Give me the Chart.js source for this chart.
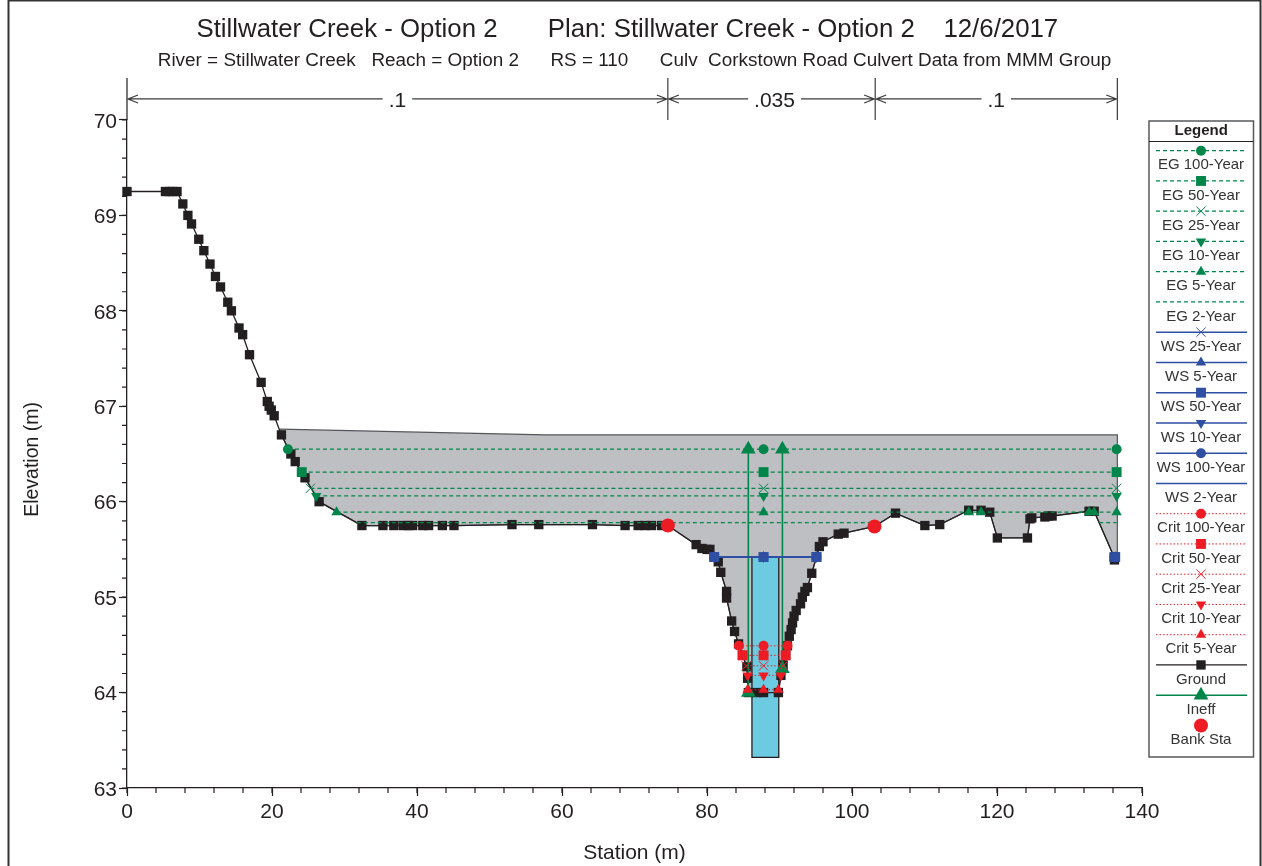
<!DOCTYPE html>
<html>
<head>
<meta charset="utf-8">
<title>Stillwater Creek - Option 2</title>
<script src="https://cdn.jsdelivr.net/npm/chart.js@4"></script>
<style>
    html, body { margin: 0; padding: 0; background: #ffffff; overflow: hidden; }
    canvas { display: block; }
</style>
</head>
<body>
<canvas id="chart1" width="1262" height="866"></canvas>
<script>
const groundX = [0, 5.3, 5.8, 6.3, 6.9, 7.7, 8.4, 8.9, 9.9, 10.6, 11.45, 12.2, 12.9, 13.9, 14.4, 15.45, 15.95, 16.9, 18.5, 19.35, 19.6, 19.9, 20.3, 21.3,
    22.6, 23.2, 24.55, 26.5, 32.4, 35.3, 36.8, 38.1, 38.8, 39.4, 40.8, 41.6, 43.5, 45.1, 53.1, 56.8, 64.2, 68.7, 70.5, 71.45, 72.35, 73.75, 74.6,
    78.5, 79.3, 80.0, 80.4, 81.0, 81.55, 81.9, 82.7, 82.7, 83.4, 83.8, 84.35, 84.9, 85.5, 85.6, 85.7, 86.8, 87.8, 89.85,
    90.2, 90.5, 90.85, 91.1, 91.35, 91.6, 91.8, 92.0, 92.3, 92.9, 93.15, 93.5, 93.85, 94.45, 95.1, 95.5, 96.0, 98.1, 98.9, 103.1,
    106.0, 110.05, 112.1, 116.1, 117.8, 119.0, 120.05, 124.2, 124.55, 124.8, 126.6, 127.1, 127.6, 132.7, 133.4, 136.15, 136.2];
const groundY = [69.25, 69.25, 69.25, 69.25, 69.25, 69.12, 69.0, 68.91, 68.75, 68.63, 68.49, 68.36, 68.25, 68.09, 68.0, 67.82, 67.75, 67.54, 67.25, 67.05, 67.0, 66.96, 66.9, 66.7,
    66.5, 66.42, 66.25, 66.0, 65.75, 65.75, 65.75, 65.75, 65.75, 65.75, 65.75, 65.75, 65.75, 65.75, 65.76, 65.76, 65.76, 65.75, 65.75, 65.75, 65.75, 65.75, 65.75,
    65.55, 65.51, 65.5, 65.5, 65.42, 65.37, 65.26, 65.06, 64.99, 64.75, 64.64, 64.51, 64.39, 64.27, 64.15, 64.0, 64.0, 64.0, 64.0,
    64.18, 64.29, 64.39, 64.49, 64.59, 64.66, 64.73, 64.8, 64.86, 64.93, 65.0, 65.06, 65.1, 65.25, 65.42, 65.53, 65.58, 65.66, 65.67, 65.74,
    65.88, 65.75, 65.76, 65.91, 65.91, 65.89, 65.62, 65.62, 65.82, 65.83, 65.84, 65.85, 65.85, 65.9, 65.9, 65.42, 65.39];

const flowTopX = [21.1, 57.7, 136.6, 136.6];
const flowTopY = [66.76, 66.7, 66.7, 65.39];
const culvertX = [86.2, 86.2, 89.9, 89.9, 86.2];
const culvertY = [65.42, 63.32, 63.32, 65.42, 65.42];

const eg100X = [22.2, 87.8, 136.5];
const eg100Y = [66.55, 66.55, 66.55];
const eg50X = [24.1, 87.8, 136.5];
const eg50Y = [66.31, 66.31, 66.31];
const eg25X = [25.3, 87.8, 136.5];
const eg25Y = [66.14, 66.14, 66.14];
const eg10X = [26.1, 87.8, 136.5];
const eg10Y = [66.06, 66.06, 66.06];
const eg5X = [28.9, 87.8, 116.1, 117.8, 132.7, 133.4, 136.5];
const eg5Y = [65.89, 65.89, 65.89, 65.89, 65.89, 65.89, 65.89];
const eg2X = [31.7, 103.1, 110, 134.1, 136.5];
const eg2Y = [65.78, 65.78, null, 65.78, 65.78];

const wsX = [81.0, 87.8, 95.1, 110, 136.3];
const wsY = [65.42, 65.42, 65.42, null, 65.42];

const crit100X = [84.4, 87.8, 91.1];
const crit100Y = [64.49, 64.49, 64.49];
const crit50X = [84.9, 87.8, 90.85];
const crit50Y = [64.39, 64.39, 64.39];
const crit25X = [85.4, 87.8, 90.5];
const crit25Y = [64.28, 64.28, 64.28];
const crit10X = [85.6, 87.8, 90.2];
const crit10Y = [64.18, 64.18, 64.18];
const crit5X = [85.6, 87.8, 89.85];
const crit5Y = [64.03, 64.03, 64.03];

const ineffX = [85.7, 85.7, 88, 90.4, 90.4];
const ineffY = [66.55, 64.0, null, 66.55, 64.25];
const bankX = [74.6, 103.1];
const bankY = [65.75, 65.74];

const nStations = [0, 74.6, 103.2, 136.6];
const nValues = ['.1', '.035', '.1'];

const FONT = '"Liberation Sans", Arial, sans-serif';
const INK = '#231f20';
const GREEN = '#00854a';
const BLUE = '#2f4fa2';
const RED = '#ed1c24';

function pts(xs, ys) {
    return xs.map((x, i) => ({ x: x, y: ys[i] }));
}

function series(label, xs, ys, color, dash, width, style, radius, rotation, order) {
    return {
        label: label,
        data: pts(xs, ys),
        borderColor: color,
        backgroundColor: color,
        borderDash: dash,
        borderWidth: width,
        pointStyle: style,
        pointRadius: style ? radius : 0,
        pointRotation: rotation,
        pointBorderWidth: style === 'crossRot' ? 1 : 0,
        pointBackgroundColor: color,
        pointBorderColor: color,
        tension: 0,
        clip: false,
        order: order
    };
}

const egDash = [4, 3];
const critDash = [1.5, 2];

const datasets = [
    series('EG 100-Year', eg100X, eg100Y, GREEN, egDash, 1.3, 'circle', 5, 0, 40),
    series('EG 50-Year', eg50X, eg50Y, GREEN, egDash, 1.3, 'rect', 7, 0, 40),
    series('EG 25-Year', eg25X, eg25Y, GREEN, egDash, 1.3, 'crossRot', 6.5, 0, 40),
    series('EG 10-Year', eg10X, eg10Y, GREEN, egDash, 1.3, 'triangle', 6, 180, 40),
    series('EG 5-Year', eg5X, eg5Y, GREEN, egDash, 1.3, 'triangle', 6, 0, 40),
    series('EG 2-Year', eg2X, eg2Y, GREEN, egDash, 1.3, false, 0, 0, 40),
    series('WS 25-Year', wsX, wsY, BLUE, [], 1.5, 'crossRot', 6.5, 0, 30),
    series('WS 5-Year', wsX, wsY, BLUE, [], 1.5, 'triangle', 6, 0, 30),
    series('WS 50-Year', wsX, wsY, BLUE, [], 1.5, 'rect', 7, 0, 30),
    series('WS 10-Year', wsX, wsY, BLUE, [], 1.5, 'triangle', 6, 180, 30),
    series('WS 100-Year', wsX, wsY, BLUE, [], 1.5, 'circle', 5, 0, 30),
    series('WS 2-Year', wsX, wsY, BLUE, [], 1.5, false, 0, 0, 30),
    series('Crit 100-Year', crit100X, crit100Y, RED, critDash, 1, 'circle', 5, 0, 20),
    series('Crit 50-Year', crit50X, crit50Y, RED, critDash, 1, 'rect', 7, 0, 20),
    series('Crit 25-Year', crit25X, crit25Y, RED, critDash, 1, 'crossRot', 6.5, 0, 20),
    series('Crit 10-Year', crit10X, crit10Y, RED, critDash, 1, 'triangle', 6, 180, 20),
    series('Crit 5-Year', crit5X, crit5Y, RED, critDash, 1, 'triangle', 6, 0, 20),
    series('Ground', groundX, groundY, INK, [], 1.3, 'rect', 6.6, 0, 60),
    series('Ineff', ineffX, ineffY, GREEN, [], 1.6, 'triangle', 8.5, 0, 50),
    series('Bank Sta', bankX, bankY, RED, [], 0, 'circle', 7, 0, 10),
    {
        // flow area: top edge then back along the ground
        data: pts(flowTopX, flowTopY).concat(pts(groundX, groundY).filter(p => p.x >= 21.3).reverse()),
        borderColor: '#55565a',
        borderWidth: 1.2,
        backgroundColor: '#bebfc3',
        fill: 'shape',
        pointRadius: 0,
        tension: 0,
        clip: false,
        order: 80
    },
    {
        data: pts(culvertX, culvertY),
        borderColor: INK,
        borderWidth: 1.3,
        backgroundColor: '#6ccbe0',
        fill: 'shape',
        pointRadius: 0,
        tension: 0,
        clip: false,
        order: 70
    }
];

// minor ticks, the n value row over the plot, the legend panel and the page frame
const extras = {
    id: 'extras',
    beforeDatasetsDraw(chart) {
        const ctx = chart.ctx;
        const x = chart.scales.x;
        const y = chart.scales.y;
        ctx.save();
        ctx.strokeStyle = INK;
        ctx.lineWidth = 1.2;
        ctx.beginPath();
        for (let v = 0; v <= 140; v += 4) {
            const px = x.getPixelForValue(v);
            ctx.moveTo(px, y.bottom);
            ctx.lineTo(px, y.bottom + 5);
        }
        for (let i = 0; i <= 35; i++) {
            const py = y.getPixelForValue(63 + i * 0.2);
            ctx.moveTo(x.left - 5, py);
            ctx.lineTo(x.left, py);
        }
        ctx.moveTo(x.left, y.top);
        ctx.lineTo(x.left, y.getPixelForValue(70.44));
        ctx.stroke();
        ctx.restore();
    },
    afterDraw(chart) {
        const ctx = chart.ctx;
        const x = chart.scales.x;
        const y = chart.scales.y;
        ctx.save();

        ctx.strokeStyle = '#333333';
        ctx.lineWidth = 2;
        ctx.strokeRect(8.5, 0.5, 1252, 900);

        const rowY = y.getPixelForValue(70.22);
        const topY = y.getPixelForValue(70.44);
        ctx.strokeStyle = '#3a3a3c';
        ctx.lineWidth = 1.2;
        nStations.forEach((s, i) => {
            const px = x.getPixelForValue(s);
            if (i > 0) {
                ctx.beginPath();
                ctx.moveTo(px, topY);
                ctx.lineTo(px, y.top);
                ctx.stroke();
            }
        });
        ctx.font = '21px ' + FONT;
        ctx.textAlign = 'center';
        ctx.textBaseline = 'middle';
        nValues.forEach((n, i) => {
            const a = x.getPixelForValue(nStations[i]);
            const b = x.getPixelForValue(nStations[i + 1]);
            const mid = (a + b) / 2 + (n.length > 2 ? 3 : 0);
            const half = ctx.measureText(n).width / 2 + 6;
            ctx.beginPath();
            ctx.moveTo(a + 1, rowY);
            ctx.lineTo(mid - half, rowY);
            ctx.moveTo(mid + half, rowY);
            ctx.lineTo(b - 1, rowY);
            ctx.moveTo(a + 11, rowY - 4);
            ctx.lineTo(a + 1, rowY);
            ctx.lineTo(a + 11, rowY + 4);
            ctx.moveTo(b - 11, rowY - 4);
            ctx.lineTo(b - 1, rowY);
            ctx.lineTo(b - 11, rowY + 4);
            ctx.stroke();
            ctx.fillStyle = INK;
            ctx.fillText(n, mid, rowY + 2);
        });

        // legend panel
        const left = 1149, right = 1253.5, top = 121, bottom = 757;
        ctx.fillStyle = '#ffffff';
        ctx.fillRect(left, top, right - left, bottom - top);
        ctx.strokeStyle = '#58595b';
        ctx.lineWidth = 1.5;
        ctx.strokeRect(left, top, right - left, bottom - top);
        ctx.strokeStyle = INK;
        ctx.lineWidth = 1;
        ctx.beginPath();
        ctx.moveTo(left, 141.5);
        ctx.lineTo(right, 141.5);
        ctx.stroke();
        ctx.fillStyle = INK;
        ctx.font = 'bold 15px ' + FONT;
        ctx.fillText('Legend', (left + right) / 2, 131);

        const cx = 1201;
        chart.data.datasets.filter(d => d.label).forEach((d, i) => {
            const ly = 150.7 + i * 30.25;
            if (d.borderWidth > 0) {
                ctx.strokeStyle = d.borderColor;
                ctx.lineWidth = d.borderWidth;
                ctx.setLineDash(d.borderDash);
                ctx.beginPath();
                ctx.moveTo(1156, ly);
                ctx.lineTo(1247, ly);
                ctx.stroke();
                ctx.setLineDash([]);
            }
            if (d.pointStyle) {
                ctx.fillStyle = d.pointBackgroundColor;
                ctx.strokeStyle = d.pointBorderColor;
                ctx.lineWidth = d.pointBorderWidth;
                Chart.helpers.drawPoint(ctx, {
                    pointStyle: d.pointStyle,
                    radius: d.pointRadius,
                    rotation: d.pointRotation,
                    borderWidth: d.pointBorderWidth
                }, cx, ly);
            }
            ctx.fillStyle = '#333333';
            ctx.font = '15px ' + FONT;
            ctx.fillText(d.label, cx, ly + 14.6);
        });
        ctx.restore();
    }
};

const ctx1 = document.getElementById('chart1').getContext('2d');
new Chart(ctx1, {
    type: 'line',
    data: { datasets: datasets },
    plugins: [extras],
    options: {
        responsive: false,
        animation: false,
        events: [],
        layout: { padding: { left: 0, right: 120, top: 0, bottom: 0 } },
        plugins: {
            legend: { display: false },
            tooltip: { enabled: false },
            title: {
                display: true,
                fullSize: false,
                text: 'Stillwater Creek - Option 2       Plan: Stillwater Creek - Option 2    12/6/2017  ',
                color: INK,
                font: { family: FONT, size: 25.8, weight: 'normal', lineHeight: 1.2 },
                padding: { top: 14.5, bottom: 3.1 }
            },
            subtitle: {
                display: true,
                fullSize: false,
                text: 'River = Stillwater Creek   Reach = Option 2      RS = 110      Culv  Corkstown Road Culvert Data from MMM Group',
                color: INK,
                font: { family: FONT, size: 18.9, weight: 'normal', lineHeight: 1.2 },
                padding: { top: 1, bottom: 47.7 }
            }
        },
        scales: {
            x: {
                type: 'linear',
                min: 0,
                max: 140,
                afterFit: s => { s.height = 78; },
                grid: { drawOnChartArea: false, tickLength: 8, tickColor: INK, tickWidth: 1.2 },
                border: { color: INK, width: 1.3 },
                ticks: { stepSize: 20, color: INK, padding: 4, maxRotation: 0, font: { family: FONT, size: 21 } },
                title: {
                    display: true,
                    text: 'Station (m)',
                    color: INK,
                    font: { family: FONT, size: 21, lineHeight: 1.2 },
                    padding: { top: 0, bottom: 0.6 }
                }
            },
            y: {
                type: 'linear',
                min: 63,
                max: 70,
                afterFit: s => { s.width = 127; },
                grid: { drawOnChartArea: false, tickLength: 8, tickColor: INK, tickWidth: 1.2 },
                border: { color: INK, width: 1.3 },
                ticks: { stepSize: 1, color: INK, padding: 2, labelOffset: 2, font: { family: FONT, size: 21 } },
                title: {
                    display: true,
                    text: 'Elevation (m)  ',
                    color: INK,
                    font: { family: FONT, size: 19.5, lineHeight: 1.2 },
                    padding: { top: 20.5, bottom: 0 }
                }
            }
        }
    }
});
</script>
</body>
</html>
